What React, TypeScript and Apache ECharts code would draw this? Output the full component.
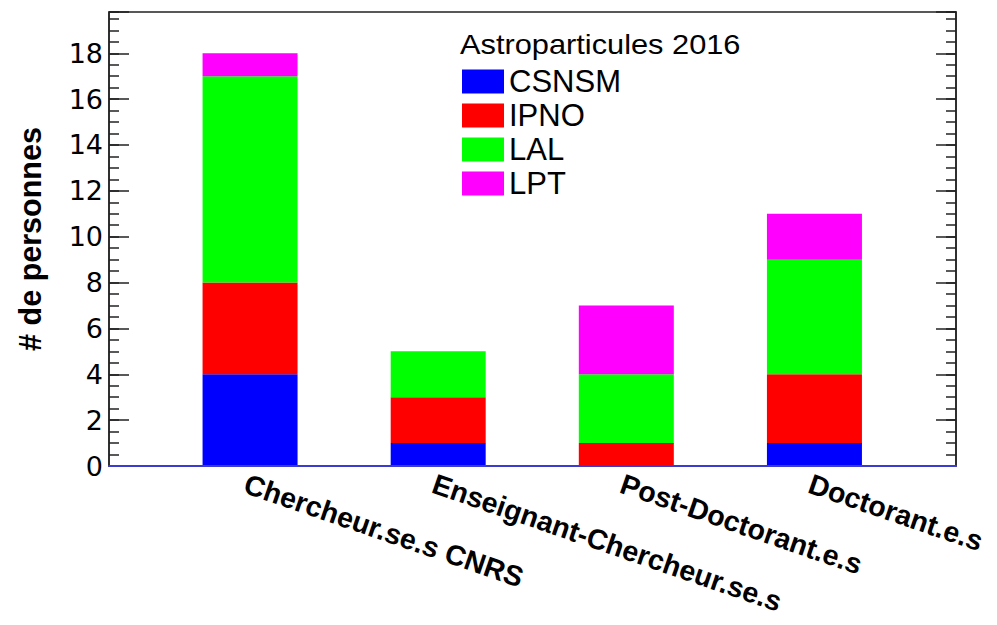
import React, { useEffect, useRef } from "react";
import * as echarts from "echarts";

const categories = ["Chercheur.se.s CNRS", "Enseignant-Chercheur.se.s", "Post-Doctorant.e.s", "Doctorant.e.s"];
const labNames = ["CSNSM", "IPNO", "LAL", "LPT"];
const labColors = ["#0000ff", "#ff0000", "#00ff00", "#ff00ff"];
const csnsm = [4, 1, 0, 1];
const ipno = [4, 2, 1, 3];
const lal = [9, 2, 3, 5];
const lpt = [1, 0, 3, 2];
const seriesValues = [csnsm, ipno, lal, lpt];
const yMax = 19.8;
const legendTitle = "Astroparticules 2016";
const yTitle = "# de personnes";

const FONT = "DejaVu Sans";
const HELV = "Liberation Sans";

export default function App() {
  const ref = useRef<HTMLDivElement>(null);
  useEffect(() => {
    if (!ref.current) return;
    const chart = echarts.init(ref.current, undefined, { renderer: "svg" });
    const frameColor = "#222";
    const gridTop = 12;
    const gridBottom = 159;
    const majorAxis = (pos: "left" | "right", showLabel: boolean) => ({
      type: "value",
      gridIndex: 0,
      position: pos,
      min: 0,
      max: yMax,
      interval: 2,
      axisLine: { show: true, lineStyle: { color: frameColor, width: 1.5 } },
      axisTick: { show: true, inside: true, length: 20, lineStyle: { color: frameColor, width: 1.5 } },
      axisLabel: {
        show: showLabel,
        margin: 6,
        fontSize: 27,
        fontFamily: FONT,
        color: "#000",
        formatter: (v: number) => (Math.abs(v % 2) < 1e-9 ? String(v) : ""),
      },
      splitLine: { show: false },
      ...(showLabel
        ? {
            name: yTitle,
            nameLocation: "middle",
            nameRotate: 90,
            nameGap: 64,
            nameTextStyle: { fontSize: 30.5, fontWeight: "bold", fontFamily: HELV, color: "#000" },
          }
        : {}),
    });
    const minorAxis = (pos: "left" | "right") => ({
      type: "value",
      gridIndex: 0,
      position: pos,
      min: 0,
      max: yMax,
      interval: 0.5,
      axisLine: { show: false },
      axisTick: { show: true, inside: true, length: 10, lineStyle: { color: frameColor, width: 1.5 } },
      axisLabel: { show: false },
      splitLine: { show: false },
    });

    chart.setOption({
      animation: false,
      backgroundColor: "#fff",
      grid: [
        {
          left: 109, right: 41, top: gridTop, bottom: gridBottom,
          show: true, borderColor: frameColor, borderWidth: 1.5, backgroundColor: "transparent",
          containLabel: false, outerBoundsMode: "none",
        },
        { left: 156, right: 88.5, top: gridTop, bottom: gridBottom, containLabel: false, outerBoundsMode: "none" },
      ],
      xAxis: [
        {
          type: "value",
          gridIndex: 0,
          min: 0,
          max: 1,
          z: 5,
          axisLine: { show: true, lineStyle: { color: "#3b3bd0", width: 2 } },
          axisTick: { show: false },
          axisLabel: { show: false },
          splitLine: { show: false },
        },
        {
          type: "category",
          gridIndex: 1,
          data: categories,
          axisLine: { show: false },
          axisTick: { show: false },
          axisLabel: {
            interval: 0,
            rotate: -19,
            align: "left",
            verticalAlign: "top",
            margin: 3,
            fontSize: 28.5,
            fontWeight: "bold",
            fontFamily: HELV,
            color: "#000",
          },
        },
      ],
      yAxis: [
        majorAxis("left", true),
        minorAxis("left"),
        majorAxis("right", false),
        minorAxis("right"),
        { type: "value", gridIndex: 1, min: 0, max: yMax, show: false },
      ],
      legend: {
        orient: "vertical",
        left: 462,
        top: 66,
        padding: 0,
        itemWidth: 42,
        itemHeight: 24,
        itemGap: 3,
        icon: "rect",
        selectedMode: false,
        data: labNames,
        textStyle: { fontSize: 31, fontFamily: HELV, color: "#000" },
      },
      graphic: [
        {
          type: "text",
          x: 460,
          y: 45,
          scaleX: 1.14,
          style: { text: legendTitle, fontSize: 27, fontFamily: HELV, fill: "#000", verticalAlign: "middle", align: "left" },
        },
      ],
      series: labNames.map((name, i) => ({
        name,
        type: "bar",
        stack: "total",
        xAxisIndex: 1,
        yAxisIndex: 4,
        barWidth: 95,
        itemStyle: { color: labColors[i] },
        data: seriesValues[i],
      })),
    });
    return () => chart.dispose();
  }, []);
  return <div ref={ref} style={{ width: 997, height: 625, position: "absolute", left: 0, top: 0 }} />;
}
